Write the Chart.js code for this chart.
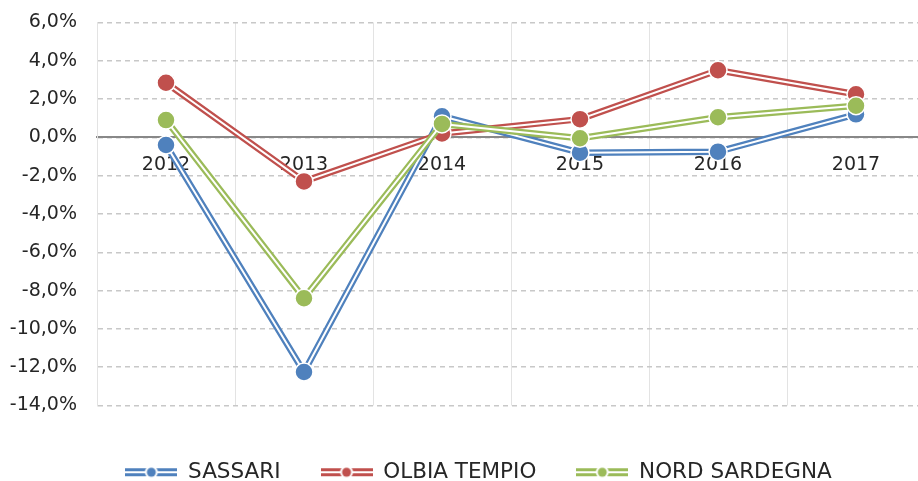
<!DOCTYPE html>
<html>
<head>
<meta charset="utf-8">
<script src="https://cdn.jsdelivr.net/npm/chart.js@4/dist/chart.umd.min.js"></script>
<style>
  html, body { margin: 0; padding: 0; background: #fff; overflow: hidden; }
  #box { width: 997px; height: 490px; position: relative; margin-top: -9px; }
</style>
</head>
<body>
<div id="box"><canvas id="grafico"></canvas></div>
<script>
const anni = ["2012", "2013", "2014", "2015", "2016", "2017"];
const sassari = [-0.4, -12.25, 1.1, -0.8, -0.75, 1.2];
const olbiaTempio = [2.85, -2.3, 0.2, 0.95, 3.5, 2.25];
const nordSardegna = [0.9, -8.4, 0.7, -0.05, 1.05, 1.65];
const nomi = ["SASSARI", "OLBIA TEMPIO", "NORD SARDEGNA"];
const colori = ["#4F81BD", "#C0504D", "#9BBB59"];

// simbolo della legenda: doppia linea con pallino
function iconaLegenda(col) {
  const c = document.createElement('canvas');
  c.width = 52; c.height = 14;
  const g = c.getContext('2d');
  g.fillStyle = col;
  g.fillRect(0, 3, 52, 3);
  g.fillRect(0, 8, 52, 3);
  g.fillStyle = '#fff';
  g.beginPath(); g.arc(26, 7, 6.5, 0, Math.PI * 2); g.fill();
  g.fillStyle = col;
  g.beginPath(); g.arc(26, 7, 4.5, 0, Math.PI * 2); g.fill();
  return c;
}
const icone = colori.map(iconaLegenda);

// linea doppia (colore + striscia bianca) disegnata prima dei punti
const lineaDoppia = {
  id: 'lineaDoppia',
  beforeDatasetDraw(chart, args) {
    const pts = args.meta.data;
    const ctx = chart.ctx;
    const col = chart.data.datasets[args.index].backgroundColor;
    ctx.save();
    ctx.lineJoin = 'round';
    [[col, 6.5], ['#fff', 2]].forEach(([c, w]) => {
      ctx.beginPath();
      pts.forEach((p, i) => i ? ctx.lineTo(p.x, p.y) : ctx.moveTo(p.x, p.y));
      ctx.strokeStyle = c;
      ctx.lineWidth = w;
      ctx.stroke();
    });
    ctx.restore();
  },
  afterLayout(chart) {
    chart.legend.top += 16;
    chart.legend.bottom += 16;
    chart.legend.left += 16;
    chart.legend.right += 16;
  }
};

const serie = [sassari, olbiaTempio, nordSardegna];

const chart = new Chart(document.getElementById('grafico'), {
  type: 'line',
  data: {
    labels: anni,
    datasets: serie.map((vals, i) => ({
      label: nomi[i],
      data: vals,
      showLine: false,
      backgroundColor: colori[i],
      borderColor: colori[i],
      pointRadius: 9,
      pointHoverRadius: 9,
      pointBorderColor: '#fff',
      pointBorderWidth: 1.5,
      order: 2 - i
    }))
  },
  options: {
    responsive: true,
    maintainAspectRatio: false,
    animation: false,
    layout: { padding: { top: 1, left: 0, right: 72, bottom: 4 } },
    plugins: {
      tooltip: { enabled: false },
      legend: {
        position: 'bottom',
        labels: {
          usePointStyle: true,
          pointStyleWidth: 52,
          padding: 40,
          color: '#262626',
          font: { family: 'DejaVu Sans', size: 21.5 },
          sort: (a, b) => a.datasetIndex - b.datasetIndex,
          generateLabels(chart) {
            return Chart.defaults.plugins.legend.labels.generateLabels(chart).map(it => {
              it.pointStyle = icone[it.datasetIndex];
              return it;
            });
          }
        }
      }
    },
    scales: {
      x: {
        position: { y: 0 },
        offset: true,
        grid: { offset: true, color: '#e3e3e3', lineWidth: 1, drawTicks: false },
        border: { color: '#888', width: 2 },
        ticks: { color: '#262626', padding: 16, font: { family: 'DejaVu Sans', size: 19 } }
      },
      y: {
        min: -14,
        max: 6,
        afterFit(scale) { scale.width = 97; },
        grid: { color: '#c8c8c8', lineWidth: 1.5, drawTicks: false },
        border: { color: '#e3e3e3', width: 1, dash: [5, 4] },
        ticks: {
          stepSize: 2,
          padding: 20,
          color: '#262626',
          font: { family: 'DejaVu Sans', size: 19 },
          callback: v => v.toFixed(1).replace('.', ',') + '%'
        }
      }
    }
  },
  plugins: [lineaDoppia]
});
</script>
</body>
</html>
